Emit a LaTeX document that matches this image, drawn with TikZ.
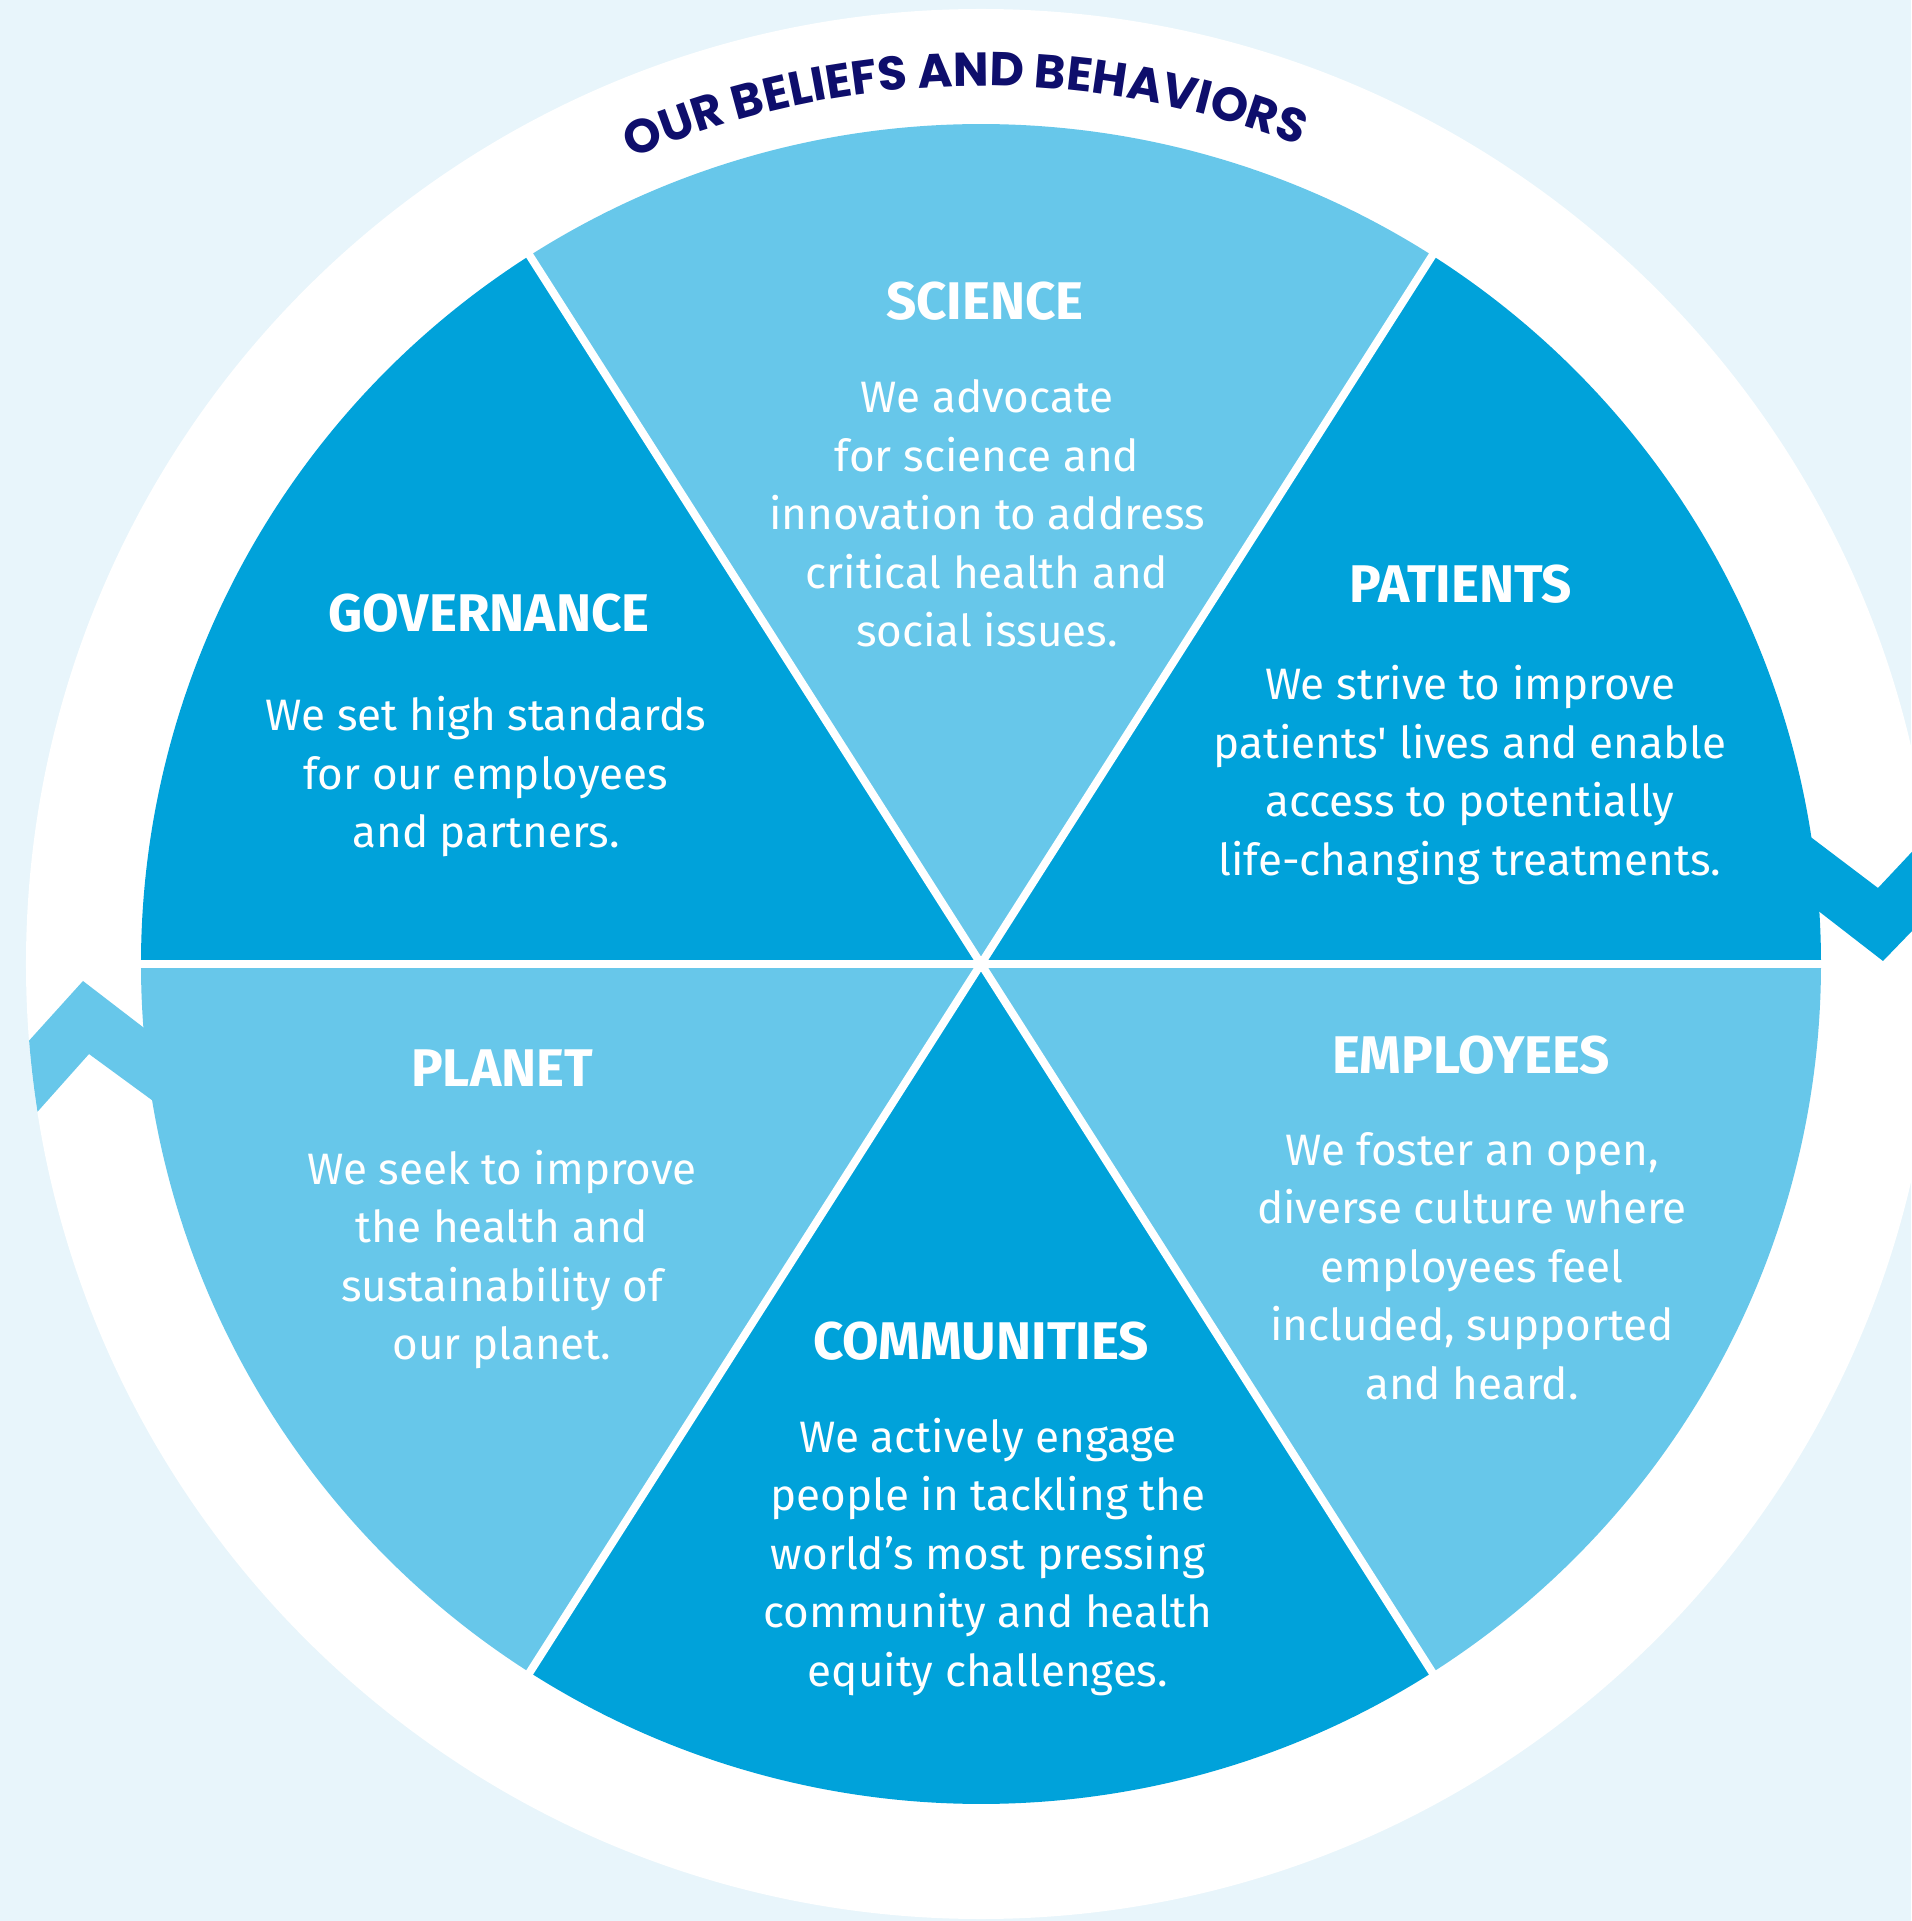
\documentclass[tikz,border=0pt]{standalone}
\usepackage{fontspec}
\usepackage{tikz}
\usetikzlibrary{decorations.text}
\newfontfamily\bodyfam{Fira Sans}
\newfontfamily\titlefam{Poppins}
\definecolor{bgblue}{RGB}{232,245,251}
\definecolor{lightsector}{RGB}{103,199,234}
\definecolor{darksector}{RGB}{0,162,218}
\definecolor{titlenavy}{RGB}{14,14,108}
\newcommand{\textlines}[1]{\begin{tabular}[t]{@{}c@{}}#1\end{tabular}}

\begin{document}
\begin{tikzpicture}[x=1pt,y=1pt,
  heading/.style={text=white, anchor=base, inner sep=0pt,
    font=\bodyfam\bfseries\fontsize{53}{60}\selectfont},
  blurb/.style={text=white, anchor=base, inner sep=0pt,
    font=\bodyfam\fontsize{44}{58.5}\selectfont}
]
\useasboundingbox (-981,-957) rectangle (930,964);
\fill[bgblue] (-981,-957) rectangle (930,964);
\fill[white] (0,0) circle[radius=955];
% zigzag arrows
\fill[lightsector] (184.6:955) -- (-898,-17) -- (-790,-100) -- (-780,-172)
  -- (-892,-90) -- (188.9:955) arc[start angle=188.9, end angle=184.6, radius=955] -- cycle;
\fill[darksector] (790,157) -- (897,76) -- (990,175) -- (990,94) -- (902,3) -- (800,82) -- cycle;
% six sectors
\foreach \from/\to/\col in {0/57.5/darksector, 57.5/122.5/lightsector,
    122.5/180/darksector, 180/237.5/lightsector,
    237.5/302.5/darksector, 302.5/360/lightsector}
  \fill[\col] (0,0) -- (\from:840) arc[start angle=\from, end angle=\to, radius=840] -- cycle;
\foreach \a in {0,57.5,122.5,180,237.5,302.5}
  \draw[white, line width=8pt] (0,0) -- (\a:845);
% title on the ring
\path[decorate, decoration={text along path, text align=center,
    text={|\titlefam\bfseries\fontsize{47.5}{48}\selectfont\color{titlenavy}|OUR BELIEFS AND BEHAVIORS}}]
  (136.1:878) arc[start angle=136.1, end angle=46.1, radius=878];

\node[heading] (science) at (4,644) {SCIENCE};
\node[blurb] (sciencetext) at (6,551) {\textlines{We advocate\\for science and\\innovation to address\\critical health and\\social issues.}};
\node[heading] (governance) at (-492,332) {GOVERNANCE};
\node[blurb] (governancetext) at (-495,233) {\textlines{We set high standards\\for our employees\\and partners.}};
\node[heading] (patients) at (480,361) {PATIENTS};
\node[blurb] (patientstext) at (489,264) {\textlines{We strive to improve\\patients\textquotesingle{} lives and enable\\access to potentially\\life-changing treatments.}};
\node[heading] (planet) at (-479,-122) {PLANET};
\node[blurb] (planettext) at (-479,-220) {\textlines{We seek to improve\\the health and\\sustainability of\\our planet.}};
\node[heading] (employees) at (490,-109) {EMPLOYEES};
\node[blurb] (employeestext) at (491,-201) {\textlines{We foster an open,\\diverse culture where\\employees feel\\included, supported\\and heard.}};
\node[heading] (communities) at (0,-395) {COMMUNITIES};
\node[blurb] (communitiestext) at (7,-488) {\textlines{We actively engage\\people in tackling the\\world’s most pressing\\community and health\\equity challenges.}};
\end{tikzpicture}
\end{document}
